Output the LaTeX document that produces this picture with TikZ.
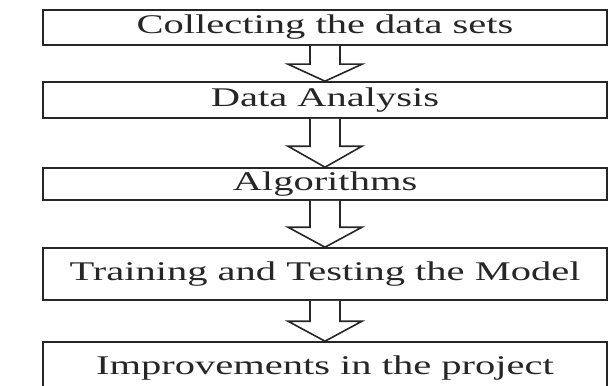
\documentclass[tikz,border=0pt]{standalone}
\usepackage{fontspec}
\setmainfont{Liberation Serif}[FakeStretch=1.5]
\usetikzlibrary{calc}

\newcommand{\flowarrow}[3]{%
  \draw[arrowline] ($(#1.south)+(-15,0)$) -- ($(#2.north)+(-15,-#3)$) -- ($(#2.north)+(-37,-#3)$)
    -- (#2.north) -- ($(#2.north)+(37,-#3)$) -- ($(#2.north)+(15,-#3)$) -- ($(#1.south)+(15,0)$);}

\begin{document}
\begin{tikzpicture}[x=1pt, y=-1pt,
  stage/.style={draw=black!85, line width=1.6pt, fill=white, minimum width=564pt, inner sep=0pt,
    font=\fontsize{27}{30}\selectfont, text=black!85},
  arrowline/.style={draw=black!85, line width=1.6pt, fill=white, line join=miter}]
  \clip (0,0) rectangle (612,385);
  \fill[white] (0,0) rectangle (612,385);

  \node[stage, minimum height=35pt] (collect) at (325,27.5) {Collecting the data sets};
  \node[stage, minimum height=36pt] (analysis) at (325,100) {Data Analysis};
  \node[stage, minimum height=32pt] (algo) at (325,184) {Algorithms};
  \node[stage, minimum height=52pt] (train) at (325,274) {Training and Testing the Model};
  \node[stage, minimum height=52pt] (improve) at (325,368) {Improvements in the project};

  \flowarrow{collect}{analysis}{17}
  \flowarrow{analysis}{algo}{21}
  \flowarrow{algo}{train}{20}
  \flowarrow{train}{improve}{20}
\end{tikzpicture}
\end{document}
